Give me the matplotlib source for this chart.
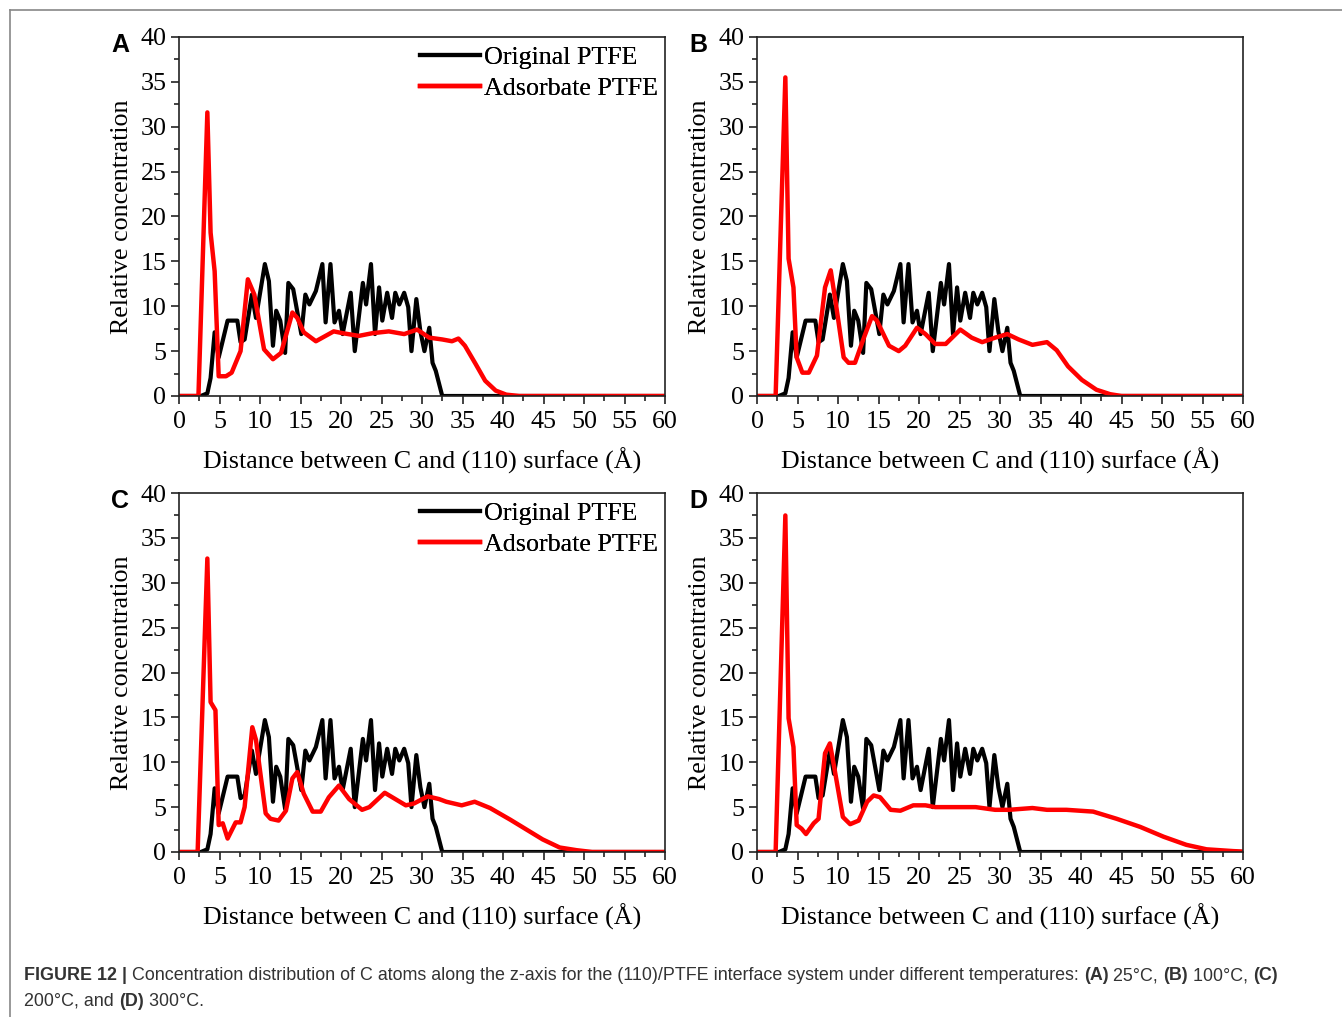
import matplotlib
matplotlib.use('Agg')
import matplotlib.pyplot as plt
from matplotlib.lines import Line2D
from matplotlib.ticker import MultipleLocator

# original PTFE profile (same in every panel)
black_x = [0, 2.7, 3.5, 3.9, 4.4, 4.9, 6.0, 7.2, 7.6, 8.1, 9.0, 9.5, 10.6, 11.1, 11.6, 12.0, 12.5, 13.1,
           13.5, 14.1, 15.1, 15.6, 16.1, 16.9, 17.7, 18.1, 18.7, 19.2, 19.75, 20.2, 21.2, 21.7, 22.7, 23.1,
           23.7, 24.2, 24.7, 25.1, 25.7, 26.3, 26.7, 27.2, 27.8, 28.3, 28.7, 29.3, 29.8, 30.3, 30.9, 31.3,
           31.7, 32.5, 60]
black_y = [0, 0, 0.3, 2.0, 7.1, 4.3, 8.4, 8.4, 6.0, 6.3, 11.3, 8.7, 14.7, 12.8, 5.6, 9.5, 8.4, 4.8,
           12.6, 11.9, 6.9, 11.3, 10.2, 11.7, 14.7, 8.2, 14.7, 8.2, 9.5, 6.9, 11.5, 5.0, 12.6, 10.2,
           14.7, 6.9, 12.1, 8.4, 11.5, 8.7, 11.5, 10.2, 11.5, 9.9, 5.0, 10.8, 7.2, 5.0, 7.6, 3.7,
           2.8, 0.0, 0]

# adsorbate PTFE, 25 C
a_x = [0, 2.4, 3.5, 3.9, 4.4, 4.9, 5.8, 6.5, 7.6, 8.5, 9.3, 10.5, 11.6, 12.6, 14.0, 14.6, 15.4, 16.9,
       18.1, 19.1, 20.2, 22.2, 23.9, 25.9, 27.8, 29.4, 30.9, 32.5, 33.7, 34.5, 35.3, 36.6, 37.8, 39.1,
       40.4, 42, 60]
a_y = [0, 0, 31.6, 18.2, 13.9, 2.2, 2.2, 2.6, 5.0, 13.0, 11.3, 5.2, 4.1, 4.8, 9.3, 8.7, 7.1, 6.1,
       6.7, 7.2, 7.0, 6.7, 7.0, 7.2, 6.9, 7.4, 6.5, 6.3, 6.1, 6.4, 5.6, 3.6, 1.7, 0.6,
       0.15, 0, 0]

# 100 C
b_x = [0, 2.3, 3.5, 3.9, 4.5, 4.9, 5.6, 6.4, 7.4, 8.4, 9.1, 9.75, 10.7, 11.3, 12.1, 13.2, 14.2, 14.8,
       16.3, 17.5, 18.3, 19.75, 20.8, 22.0, 23.3, 25.1, 26.5, 27.8, 29.4, 30.9, 32.3, 34.0, 35.8, 37.0,
       38.4, 40.1, 41.9, 43.6, 45, 60]
b_y = [0, 0, 35.5, 15.3, 12.1, 4.3, 2.6, 2.6, 4.5, 12.1, 14.0, 10.2, 4.3, 3.7, 3.7, 6.5, 8.9, 8.4,
       5.6, 5.0, 5.6, 7.6, 6.9, 5.8, 5.8, 7.4, 6.5, 6.0, 6.5, 6.9, 6.3, 5.7, 6.0, 5.1,
       3.3, 1.8, 0.7, 0.2, 0, 0]

# 200 C
c_x = [0, 2.3, 3.5, 3.9, 4.5, 4.9, 5.4, 6.0, 7.0, 7.6, 8.1, 9.05, 9.5, 10.7, 11.3, 12.3, 13.2, 14.0,
       14.6, 15.4, 16.5, 17.5, 18.5, 19.75, 21.0, 22.6, 23.5, 25.4, 26.7, 28.0, 29.0, 30.7, 32.1, 33.0,
       34.9, 36.5, 38.4, 40.9, 42.9, 44.9, 47.0, 49.1, 51, 60]
c_y = [0, 0, 32.7, 16.7, 15.8, 3.0, 3.2, 1.5, 3.3, 3.3, 5.0, 13.9, 12.5, 4.3, 3.7, 3.5, 4.6, 8.2,
       8.9, 6.5, 4.5, 4.5, 6.1, 7.4, 5.9, 4.7, 5.0, 6.6, 5.9, 5.2, 5.4, 6.2, 5.9, 5.6,
       5.2, 5.6, 4.9, 3.6, 2.5, 1.4, 0.5, 0.2, 0, 0]

# 300 C
d_x = [0, 2.3, 3.5, 3.9, 4.5, 4.9, 5.5, 6.05, 7.0, 7.6, 8.4, 9.0, 9.6, 10.6, 11.5, 12.55, 13.6, 14.4,
       15.2, 16.5, 17.7, 19.3, 20.8, 22.0, 24.5, 27.0, 29.4, 31.1, 34.0, 35.8, 38.2, 41.5, 44.4, 47.3,
       50.2, 53.0, 55.5, 58.8, 60]
d_y = [0, 0, 37.5, 14.9, 11.7, 3.0, 2.6, 2.0, 3.2, 3.7, 11.0, 12.1, 9.1, 3.9, 3.1, 3.5, 5.6, 6.3,
       6.1, 4.7, 4.6, 5.2, 5.2, 5.0, 5.0, 5.0, 4.7, 4.7, 4.9, 4.7, 4.7, 4.5, 3.7, 2.8,
       1.7, 0.8, 0.3, 0.1, 0.05]

panel_letters = ['A', 'B', 'C', 'D']
series_labels = ['Original PTFE', 'Adsorbate PTFE']
x_label = 'Distance between C and (110) surface (Å)'
y_label = 'Relative concentration'

plt.rcParams['font.family'] = ['Liberation Serif', 'DejaVu Serif']
fs = 18.7

W, H = 1342, 1017
fig = plt.figure(figsize=(W / 100, H / 100), dpi=100)

# pixel boxes of the four axes (left, top)
boxes = [(179, 37), (757, 37), (179, 493), (757, 493)]
aw, ah = 486, 359
reds = [(a_x, a_y), (b_x, b_y), (c_x, c_y), (d_x, d_y)]

for (left, top), (rx, ry), letter in zip(boxes, reds, panel_letters):
    ax = fig.add_axes([left / W, 1 - (top + ah) / H, aw / W, ah / H])
    ax.plot(black_x, black_y, color='black', lw=3.0, label=series_labels[0], solid_joinstyle='round')
    ax.plot(rx, ry, color='#ff0000', lw=3.2, label=series_labels[1], solid_joinstyle='round')
    ax.set_xlim(0, 60)
    ax.set_ylim(0, 40)
    ax.xaxis.set_major_locator(MultipleLocator(5))
    ax.xaxis.set_minor_locator(MultipleLocator(2.5))
    ax.yaxis.set_major_locator(MultipleLocator(5))
    ax.yaxis.set_minor_locator(MultipleLocator(2.5))
    ax.tick_params(which='both', direction='out', top=False, right=False, width=1.2, color='#222222')
    ax.tick_params(which='major', length=6, labelsize=fs, pad=3)
    ax.tick_params(axis='x', which='major', pad=5)
    ax.tick_params(which='minor', length=3.5)
    for s in ax.spines.values():
        s.set_linewidth(1.2)
        s.set_color('#222222')
    ax.set_xlabel(x_label, fontsize=fs)
    ax.set_ylabel(y_label, fontsize=fs)
    ax.xaxis.set_label_coords(0.5, -0.143)
    ax.yaxis.set_label_coords(-0.095, 0.5)
    ax.legend(loc='upper right', frameon=False, fontsize=fs, borderpad=0, borderaxespad=0,
              bbox_to_anchor=((658 - left) / aw, 1 - 9 / ah), handlelength=2.3,
              handletextpad=0.15, labelspacing=0.3)
    fig.text((left - 59) / W, 1 - (top + 8) / H, letter, fontsize=18, fontweight='bold',
             family='Liberation Sans', ha='center', va='center')

# outer frame lines (top and left)
fig.add_artist(Line2D([10 / W, 1], [1 - 10 / H, 1 - 10 / H], color='#888888', lw=1.2))
fig.add_artist(Line2D([10 / W, 10 / W], [1 - 10 / H, 0], color='#888888', lw=1.2))

# caption with mixed bold text
cap_lines = [
    [('FIGURE 12 |', True), (' Concentration distribution of C atoms along the z-axis for the (110)/PTFE '
                             'interface system under different temperatures: ', False),
     ('(A)', True), (' 25°C, ', False), ('(B)', True), (' 100°C, ', False), ('(C)', True)],
    [('200°C, and ', False), ('(D)', True), (' 300°C.', False)],
]
fig.canvas.draw()
renderer = fig.canvas.get_renderer()
for i, line in enumerate(cap_lines):
    x = 24
    y = 1 - (976 + i * 25) / H
    for txt, bold in line:
        t = fig.text(x / W, y, txt, fontsize=12.9, family='Liberation Sans', color='#333333',
                     fontweight='bold' if bold else 'normal', va='center', ha='left')
        bb = t.get_window_extent(renderer)
        x += bb.width

fig.savefig('out.png', dpi=100)
